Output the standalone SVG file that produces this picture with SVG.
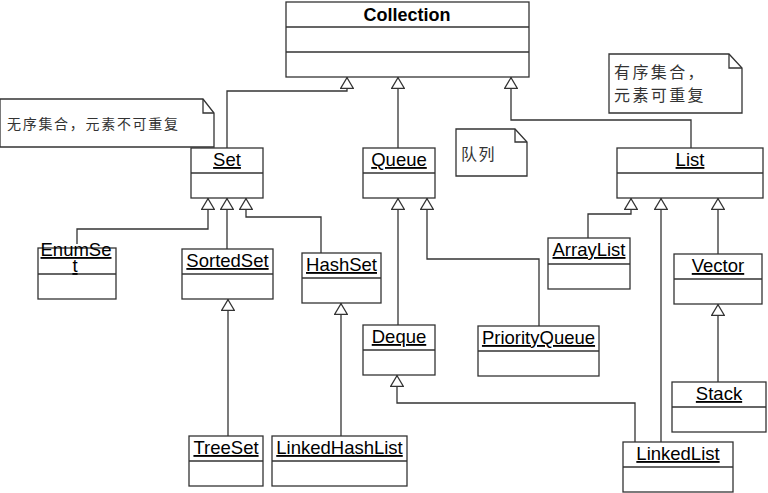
<svg xmlns="http://www.w3.org/2000/svg" width="768" height="493" viewBox="0 0 768 493">
<style>
.box{fill:#fff;stroke:#333;stroke-width:1.3}
.sep{stroke:#333;stroke-width:1.3;fill:none}
.lbl{font-family:"Liberation Sans",Arial,sans-serif;font-size:18.5px;fill:#000;text-anchor:middle;text-decoration:underline}
.ttl{font-family:"Liberation Sans",Arial,sans-serif;font-size:18px;font-weight:bold;fill:#000;text-anchor:middle}
.note{fill:#fff;stroke:#333;stroke-width:1.3}
.ntxt{font-family:"Noto Sans CJK SC","Noto Sans CJK JP",sans-serif;fill:#333}
.con path{fill:none;stroke:#333;stroke-width:1.3;marker-end:url(#tri)}
</style>
<defs>
<marker id="tri" viewBox="0 0 12 14" refX="12" refY="7" markerWidth="12" markerHeight="14" markerUnits="userSpaceOnUse" orient="auto">
<path d="M0.6,0.6 L11.4,7 L0.6,13.4 Z" fill="#fff" stroke="#333" stroke-width="1.2"/>
</marker>
</defs>
<rect width="768" height="493" fill="#fff"/>

<g id="connectors" class="con">
<path d="M227,148 V91 H347 V77"/>
<path d="M398,148 V77"/>
<path d="M691,148 V120 H511 V77"/>
<path d="M77,244 V229 H208 V198"/>
<path d="M227,249 V198"/>
<path d="M321,253 V217 H246 V198"/>
<path d="M228,436 V299"/>
<path d="M341,436 V303"/>
<path d="M398,325 V198"/>
<path d="M539,326 V259 H427 V198"/>
<path d="M635,442 V403 H397 V375"/>
<path d="M588,238 V214 H631 V198"/>
<path d="M661,442 V198"/>
<path d="M718,254 V198"/>
<path d="M718,382 V304"/>
</g>

<g id="collection">
<rect class="box" x="286" y="2" width="243" height="75"/>
<path class="sep" d="M286,27 H529 M286,52 H529"/>
<text class="ttl" x="407" y="21">Collection</text>
</g>

<g id="note-set">
<path class="note" d="M0,99 H203 L214,113 V147 H0 Z"/>
<path class="sep" d="M203,99 V113 H214"/>
<text class="ntxt" x="7" y="129" font-size="14" letter-spacing="1.7">无序集合，元素不可重复</text>
</g>

<g id="note-queue">
<path class="note" d="M456,129 H515 L527,142 V176 H456 Z"/>
<path class="sep" d="M515,129 V142 H527"/>
<text class="ntxt" x="461" y="160" font-size="16" letter-spacing="1.5">队列</text>
</g>

<g id="note-list">
<path class="note" d="M609,54 H729 L742,68 V113 H609 Z"/>
<path class="sep" d="M729,54 V68 H742"/>
<text class="ntxt" x="614" y="78" font-size="16" letter-spacing="2.4">有序集合，</text>
<text class="ntxt" x="614" y="101" font-size="16" letter-spacing="2.4">元素可重复</text>
</g>

<g id="set">
<rect class="box" x="191" y="148" width="72" height="50"/>
<path class="sep" d="M191,173 H263"/>
<text class="lbl" x="227" y="166">Set</text>
</g>

<g id="queue">
<rect class="box" x="363" y="148" width="72" height="50"/>
<path class="sep" d="M363,173 H435"/>
<text class="lbl" x="399" y="166">Queue</text>
</g>

<g id="list">
<rect class="box" x="617" y="148" width="146" height="50"/>
<path class="sep" d="M617,173 H763"/>
<text class="lbl" x="690" y="166">List</text>
</g>

<g id="enumset">
<rect class="box" x="38" y="248" width="78" height="51"/>
<path class="sep" d="M38,274 H116"/>
<text class="lbl" x="76" y="256">EnumSe</text>
<text class="lbl" x="75" y="272">t</text>
</g>

<g id="sortedset">
<rect class="box" x="182" y="249" width="91" height="50"/>
<path class="sep" d="M182,274 H273"/>
<text class="lbl" x="227.5" y="267">SortedSet</text>
</g>

<g id="hashset">
<rect class="box" x="302" y="253" width="79" height="50"/>
<path class="sep" d="M302,278 H381"/>
<text class="lbl" x="341.5" y="271">HashSet</text>
</g>

<g id="treeset">
<rect class="box" x="189" y="436" width="74" height="50"/>
<path class="sep" d="M189,461 H263"/>
<text class="lbl" x="226" y="454">TreeSet</text>
</g>

<g id="linkedhashlist">
<rect class="box" x="272" y="436" width="135" height="50"/>
<path class="sep" d="M272,461 H407"/>
<text class="lbl" x="339.5" y="454">LinkedHashList</text>
</g>

<g id="deque">
<rect class="box" x="363" y="325" width="72" height="50"/>
<path class="sep" d="M363,350 H435"/>
<text class="lbl" x="399" y="343">Deque</text>
</g>

<g id="priorityqueue">
<rect class="box" x="478" y="326" width="121" height="50"/>
<path class="sep" d="M478,351 H599"/>
<text class="lbl" x="538.5" y="344">PriorityQueue</text>
</g>

<g id="arraylist">
<rect class="box" x="548" y="238" width="82" height="51"/>
<path class="sep" d="M548,264 H630"/>
<text class="lbl" x="589" y="256">ArrayList</text>
</g>

<g id="vector">
<rect class="box" x="674" y="254" width="88" height="50"/>
<path class="sep" d="M674,279 H762"/>
<text class="lbl" x="718" y="272">Vector</text>
</g>

<g id="stack">
<rect class="box" x="672" y="382" width="94" height="50"/>
<path class="sep" d="M672,407 H766"/>
<text class="lbl" x="719" y="400">Stack</text>
</g>

<g id="linkedlist">
<rect class="box" x="623" y="442" width="110" height="50"/>
<path class="sep" d="M623,467 H733"/>
<text class="lbl" x="678" y="460">LinkedList</text>
</g>
</svg>
